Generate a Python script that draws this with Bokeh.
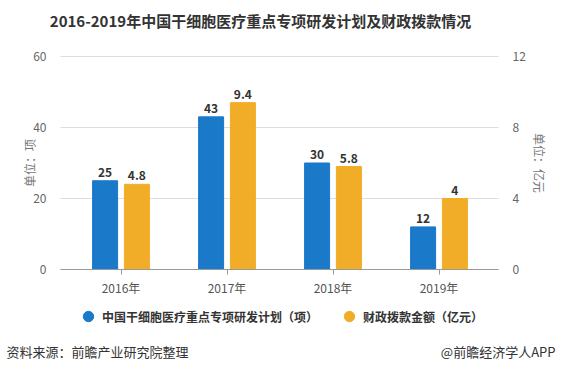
from bokeh.plotting import figure
from bokeh.models import (Range1d, LinearAxis, ColumnDataSource, Legend, LegendItem,
                          Label, FixedTicker, LabelSet)
from bokeh.core.properties import value
from bokeh.transform import dodge
from bokeh.embed import file_html
from bokeh.resources import INLINE

years = ["2016年", "2017年", "2018年", "2019年"]
projects = [25, 43, 30, 12]
funds = [4.8, 9.4, 5.8, 4]
left_ticks = [0, 20, 40, 60]
right_ticks = [0, 4, 8, 12]

FONT = "Noto Sans CJK SC"
BLUE = "#1b79c9"
ORANGE = "#f1ad28"

# canvas / layout geometry (pixels)
W, H = 556, 360
PX_CAT = 106.0          # px per category
FIRST_CAT = 120.5       # canvas x of first category centre
PLOT_L, PLOT_R = 60, 498  # canvas x of plot area edges
PLOT_T, PLOT_B = 56, 269  # canvas y of value max / zero

idx = list(range(len(years)))
xs = -FIRST_CAT / PX_CAT
xe = xs + W / PX_CAT
XL = xs + PLOT_L / PX_CAT
XR = xs + PLOT_R / PX_CAT
ymax = left_ticks[-1]
ppu = (PLOT_B - PLOT_T) / ymax
ys = -(H - PLOT_B) / ppu
ye = ymax + PLOT_T / ppu
k = right_ticks[-1] / left_ticks[-1]

src = ColumnDataSource(dict(
    idx=idx, years=years, projects=projects, funds=funds,
    phalf=[v / 2 for v in projects], fhalf=[v / 2 for v in funds],
    plab=[str(v) for v in projects], flab=[str(v) for v in funds]))

p = figure(width=W, height=H, x_range=Range1d(xs, xe), y_range=Range1d(ys, ye),
           output_backend="svg", toolbar_location=None, min_border=0,
           x_axis_location=None, y_axis_location=None)
p.extra_y_ranges = {"y2": Range1d(ys * k, ye * k)}
p.grid.visible = False
p.outline_line_color = None

# grid lines
p.segment(x0=XL, x1=XR, y0=left_ticks, y1=left_ticks, line_color="#dddddd", line_width=1,
          level="underlay")

# legend markers (hidden behind the bars of the same colour)
g1 = p.scatter(x=dodge("idx", -0.15), y="phalf", source=src, marker="circle", color=BLUE, size=6)
g2 = p.scatter(x=dodge("idx", 0.15), y="fhalf", source=src, marker="circle", color=ORANGE, size=6,
               y_range_name="y2")

r1 = p.vbar(x=dodge("idx", -0.15), top="projects", width=0.236, source=src, color=BLUE)
r2 = p.vbar(x=dodge("idx", 0.15), top="funds", width=0.236, source=src, color=ORANGE,
            y_range_name="y2")

lab_style = dict(text_font_size="12px", text_font_style="bold", text_color="#333333",
                 text_align="center", text_baseline="bottom", y_offset=4, text_font=value(FONT))
p.add_layout(LabelSet(x=dodge("idx", -0.15), y="projects", text="plab", source=src, **lab_style))
p.add_layout(LabelSet(x=dodge("idx", 0.15), y="funds", text="flab", source=src,
                      y_range_name="y2", **lab_style))

# axes
xax = LinearAxis(ticker=FixedTicker(ticks=idx),
                 major_label_overrides={i: y for i, y in zip(idx, years)},
                 fixed_location=0, bounds=(XL, XR))
xax.axis_line_color = "#999999"
xax.major_tick_line_color = "#999999"
xax.minor_tick_line_color = None
xax.major_tick_in = 0
xax.major_tick_out = 5
xax.major_label_text_font = FONT
xax.major_label_text_font_size = "12px"
xax.major_label_text_color = "#555555"
xax.major_label_standoff = 4
p.add_layout(xax, "below")

lax = LinearAxis(ticker=FixedTicker(ticks=left_ticks), axis_label="单位：项",
                 fixed_location=XL, bounds=(left_ticks[0], left_ticks[-1]))
rax = LinearAxis(y_range_name="y2", ticker=FixedTicker(ticks=right_ticks), axis_label="单位：亿元",
                 fixed_location=XR, bounds=(right_ticks[0], right_ticks[-1]))
for ax in (lax, rax):
    ax.axis_line_color = None
    ax.major_tick_line_color = None
    ax.minor_tick_line_color = None
    ax.major_label_text_font = FONT
    ax.major_label_text_font_size = "12px"
    ax.major_label_text_color = "#666666"
    ax.axis_label_text_font = FONT
    ax.axis_label_text_font_size = "12px"
    ax.axis_label_text_font_style = "normal"
    ax.axis_label_text_color = "#777777"
    ax.major_label_standoff = 8
lax.axis_label_standoff = -8
rax.axis_label_standoff = 2
p.add_layout(lax, "left")
p.add_layout(rax, "right")

# title
p.add_layout(Label(x=260, y=H - 20, x_units="screen", y_units="screen",
                   text="2016-2019年中国干细胞医疗重点专项研发计划及财政拨款情况",
                   text_font=FONT, text_font_size="15px", text_font_style="bold", text_color="#333333",
                   text_align="center", text_baseline="middle"))

legend = Legend(items=[LegendItem(label="中国干细胞医疗重点专项研发计划（项）", renderers=[g1]),
                       LegendItem(label="财政拨款金额（亿元）", renderers=[g2])],
                orientation="horizontal", location=(75, H - 316 - 13), spacing=18, padding=0, margin=0,
                label_standoff=1, label_text_font=FONT, label_text_font_size="12px",
                label_text_color="#333333", label_text_font_style="bold",
                border_line_color=None, glyph_width=26, glyph_height=26,
                background_fill_alpha=0)
p.add_layout(legend, "center")

# footer
p.add_layout(Label(x=6, y=H - 351, x_units="screen", y_units="screen", text="资料来源：前瞻产业研究院整理",
                   text_font=FONT, text_font_size="13px", text_color="#333333", text_baseline="middle"))
p.add_layout(Label(x=W - 1, y=H - 351, x_units="screen", y_units="screen", text="@前瞻经济学人APP",
                   text_font=FONT, text_font_size="13px", text_color="#333333", text_align="right",
                   text_baseline="middle"))

open("out.html", "w").write(file_html(p, INLINE))
